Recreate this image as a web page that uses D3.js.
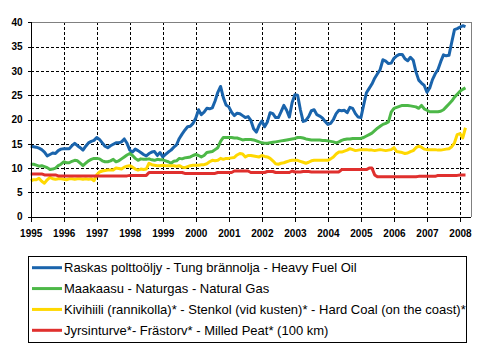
<!DOCTYPE html>
<html><head><meta charset="utf-8">
<script src="https://cdn.jsdelivr.net/npm/d3@7"></script>
<style>
html,body{margin:0;padding:0;background:#fff;}
svg{display:block;}
text{font-family:"Liberation Sans",Arial,sans-serif;}
</style></head>
<body>
<svg id="chart" width="495" height="351"></svg>
<script>
// ---- data (monthly, Jan 1995 .. Mar 2008) ----
const startYear = 1995;
const yearLabels = ["1995","1996","1997","1998","1999","2000","2001","2002","2003","2004","2005","2006","2007","2008"];
const yTicks = [0,5,10,15,20,25,30,35,40];
const seriesNames = [
  "Raskas polttoöljy - Tung brännolja - Heavy Fuel Oil",
  "Maakaasu - Naturgas - Natural Gas",
  "Kivihiili (rannikolla)* - Stenkol (vid kusten)* - Hard Coal (on the coast)*",
  "Jyrsinturve*- Frästorv* - Milled Peat* (100 km)"
];
const seriesColors = ["#1a64ac","#4db848","#ffd800","#e0302e"];

const heavyFuelOil = [
  14.5,14.4,14.3,14.1,13.8,13.3,12.5,12.8,13.1,13.0,13.6,13.9,
  14.0,14.0,14.0,14.6,15.1,14.6,14.2,13.7,14.5,15.2,15.5,15.7,
  16.3,15.9,15.2,14.5,14.2,14.6,14.9,15.2,15.2,15.4,16.0,15.1,
  13.7,13.3,13.9,13.6,13.2,12.8,12.5,13.0,13.3,13.4,12.6,13.2,
  12.3,12.8,13.3,13.7,14.3,14.8,16.1,17.0,17.8,18.5,18.6,19.2,
  20.3,22.0,21.0,21.5,22.3,22.2,22.4,23.8,25.6,26.8,24.5,23.0,
  22.6,21.5,20.8,21.3,21.2,20.8,20.4,20.6,19.8,18.1,17.4,18.8,
  19.7,18.5,19.5,21.4,21.2,20.4,20.4,21.6,22.9,21.9,20.5,23.5,
  25.1,25.0,22.0,19.6,19.8,20.6,21.8,22.0,21.0,20.7,20.3,19.6,
  19.0,19.2,20.0,21.2,21.9,21.8,21.9,21.4,22.5,22.3,21.2,20.5,
  20.4,23.0,25.5,26.4,27.3,28.5,29.4,30.3,32.3,32.0,31.5,31.6,
  32.6,33.1,33.4,33.4,32.5,32.1,32.8,32.2,29.8,28.1,27.5,27.0,
  25.6,26.5,28.2,29.4,30.3,31.9,33.3,33.1,33.2,35.9,38.5,38.7,
  39.0,39.3,39.1
];
const naturalGas = [
  10.8,10.8,10.6,10.4,10.5,10.3,10.1,9.7,9.8,10.0,10.5,10.8,
  11.3,11.1,11.1,11.4,11.6,11.5,11.0,10.5,11.0,11.5,11.8,12.0,
  12.0,11.9,11.5,11.3,11.3,11.5,11.8,11.3,11.5,11.9,12.3,12.7,
  13.0,12.6,12.0,11.6,11.9,11.8,11.8,11.9,11.7,11.6,11.8,11.7,
  11.7,11.5,11.3,11.0,11.4,11.5,12.0,11.9,12.1,12.2,12.3,12.6,
  12.8,12.6,12.3,12.6,13.2,13.3,13.4,13.8,14.2,15.5,16.3,16.3,
  16.3,16.3,16.2,16.2,16.0,15.8,15.9,15.9,15.9,15.8,15.6,15.4,
  15.2,15.1,15.1,15.2,15.3,15.4,15.5,15.6,15.7,15.8,15.9,16.0,
  16.1,16.3,16.3,16.2,16.0,15.9,15.8,15.8,15.8,15.8,15.7,15.7,
  15.6,15.5,15.4,15.2,15.4,15.7,15.9,16.0,16.0,16.1,16.1,16.1,
  16.1,16.3,16.6,16.9,17.2,17.7,18.2,18.6,19.0,19.2,19.5,21.5,
  22.3,22.5,22.7,22.9,22.9,22.9,22.8,22.7,22.6,22.3,22.9,22.2,
  21.9,21.6,21.6,21.6,21.6,21.7,22.0,22.6,23.2,23.8,24.6,25.2,
  25.8,26.2,26.5
];
const hardCoal = [
  7.4,7.6,7.6,7.9,7.3,6.9,7.6,8.1,7.8,7.7,7.8,7.8,
  7.7,7.6,7.8,7.8,7.7,7.8,7.8,7.7,7.8,7.7,7.8,7.4,
  8.6,9.2,9.4,9.5,9.6,9.6,9.6,10.0,9.9,9.8,10.2,10.4,
  10.5,10.2,9.8,9.6,9.8,9.7,9.8,11.0,10.7,10.6,10.5,10.5,
  10.6,10.5,10.5,10.5,10.5,10.4,10.5,10.2,10.1,10.3,10.5,10.6,
  10.6,10.6,10.7,10.7,10.9,11.3,11.6,11.5,11.6,12.0,11.8,12.0,
  12.0,12.1,12.2,12.7,13.0,12.9,12.3,12.6,12.6,12.5,12.4,12.3,
  12.6,12.4,12.3,12.0,11.5,10.9,10.8,11.0,11.1,11.3,11.5,11.6,
  11.6,11.6,11.4,11.2,11.0,11.2,11.5,11.6,11.6,11.6,11.6,11.6,
  11.6,11.9,12.3,12.9,13.3,13.3,13.5,13.7,14.0,13.8,13.6,13.7,
  13.8,13.8,13.8,13.7,13.7,13.6,13.7,13.8,13.7,13.6,13.7,13.8,
  14.2,13.4,13.3,13.2,13.0,13.1,13.4,13.6,14.2,14.5,14.3,13.9,
  13.8,13.8,13.8,13.8,13.7,13.7,13.8,13.9,14.0,14.4,15.2,16.9,
  17.1,16.2,18.3
];
const milledPeat = [
  8.8,8.8,8.8,8.8,8.8,8.6,8.6,8.6,8.6,8.6,8.4,8.4,
  8.4,8.4,8.4,8.4,8.4,8.4,8.4,8.4,8.4,8.4,8.4,8.4,
  8.4,8.4,8.4,8.4,8.4,8.4,8.4,8.4,8.4,8.4,8.4,8.4,
  8.5,8.5,8.5,8.5,8.5,8.5,8.5,9.1,9.1,9.1,9.1,9.1,
  9.1,9.1,9.1,9.1,9.1,9.1,9.1,9.1,8.9,8.9,8.9,8.9,
  8.9,8.9,8.9,8.9,8.9,8.9,8.9,8.9,9.1,9.1,9.1,9.1,
  9.1,9.1,9.4,9.4,9.4,9.4,9.4,9.4,9.1,9.1,9.1,9.1,
  9.1,9.1,9.3,9.3,9.3,9.1,9.1,9.1,9.1,9.1,9.1,9.4,
  9.2,9.2,9.2,9.3,9.3,9.3,9.2,9.2,9.2,9.2,9.2,9.2,
  9.2,9.2,9.2,9.2,9.2,9.7,9.7,9.7,9.7,9.7,9.7,9.7,
  9.7,9.7,9.7,10.0,10.0,8.6,8.2,8.2,8.2,8.2,8.2,8.2,
  8.2,8.2,8.2,8.2,8.2,8.2,8.2,8.2,8.2,8.3,8.3,8.3,
  8.3,8.3,8.3,8.3,8.5,8.5,8.5,8.5,8.5,8.5,8.5,8.5,
  8.6,8.6,8.6
];
const allSeries = [heavyFuelOil, naturalGas, hardCoal, milledPeat];

// ---- layout ----
const svg = d3.select("#chart");
svg.append("rect").attr("width",495).attr("height",351).attr("fill","#fff");
const L = 30.7, R = 471, T = 22.3, B = 216.7;
const totalMonths = 160;
const x = d3.scaleLinear().domain([0, totalMonths]).range([L, R]);
const y = d3.scaleLinear().domain([0, 40]).range([B, T]);
const px = v => Math.round(v) + 0.5;

// gridlines
const grid = svg.append("g").attr("shape-rendering", "crispEdges");
grid.selectAll("line.h").data(yTicks.filter(v => v > 0 && v < 40)).join("line")
  .attr("x1", L).attr("x2", R).attr("y1", d => px(y(d))).attr("y2", d => px(y(d)))
  .attr("stroke", "#000").attr("stroke-width", 1).attr("stroke-dasharray", "3,2");
const tickMonths = yearLabels.map((d,i) => i*12);
grid.selectAll("line.v").data(tickMonths.filter(m => m > 0)).join("line")
  .attr("x1", d => px(x(d))).attr("x2", d => px(x(d))).attr("y1", T).attr("y2", B)
  .attr("stroke", "#000").attr("stroke-width", 1).attr("stroke-dasharray", "3,2");

// plot frame (top/right grey)
svg.append("line").attr("x1", L).attr("x2", R).attr("y1", px(T)).attr("y2", px(T))
  .attr("stroke", "#808080").attr("stroke-width", 1).attr("shape-rendering", "crispEdges");
svg.append("line").attr("x1", px(R)).attr("x2", px(R)).attr("y1", T).attr("y2", B)
  .attr("stroke", "#808080").attr("stroke-width", 1).attr("shape-rendering", "crispEdges");

// series
const line = d3.line().x((d,i) => x(i)).y(d => y(d));
allSeries.forEach((s, k) => {
  svg.append("path").datum(s).attr("d", line).attr("fill", "none")
    .attr("stroke", seriesColors[k]).attr("stroke-width", 3)
    .attr("stroke-linejoin", "round").attr("stroke-linecap", "butt");
});

// axes
const yAxis = d3.axisLeft(y).tickValues(yTicks).tickSize(4).tickPadding(5).tickFormat(d3.format("d"));
const gy = svg.append("g").attr("transform", `translate(${px(L)},0)`).call(yAxis);
const xAxis = d3.axisBottom(x).tickValues(tickMonths).tickSize(4).tickPadding(8)
  .tickFormat((d,i) => yearLabels[i]);
const gx = svg.append("g").attr("transform", `translate(0,${px(B)})`).call(xAxis);
[gx, gy].forEach(g => {
  g.attr("shape-rendering", "crispEdges");
  g.select(".domain").attr("stroke", "#000").attr("stroke-width", 1);
  g.selectAll(".tick line").attr("stroke", "#000").attr("stroke-width", 1);
  g.selectAll("text").attr("fill", "#000").attr("font-size", 10).attr("font-weight", "bold")
    .attr("font-family", "'Liberation Sans',Arial,sans-serif");
});
gx.select(".domain").attr("d", `M${L},0H${R}`);
gy.select(".domain").attr("d", `M0,${B}V${T}`);

// legend
const lg = svg.append("g");
lg.append("rect").attr("x", 28.5).attr("y", 256.5).attr("width", 437.5).attr("height", 86)
  .attr("fill", "#fff").attr("stroke", "#000").attr("stroke-width", 1).attr("shape-rendering", "crispEdges");
const rowY = d3.scaleLinear().domain([0, 3]).range([267.7, 330.3]);
seriesNames.forEach((name, k) => {
  lg.append("line").attr("x1", 32).attr("x2", 62).attr("y1", rowY(k)).attr("y2", rowY(k))
    .attr("stroke", seriesColors[k]).attr("stroke-width", 3);
  lg.append("text").attr("x", 64).attr("y", rowY(k) + 4.6).attr("font-size", 13)
    .attr("fill", "#000").text(name);
});
</script>
</body></html>
